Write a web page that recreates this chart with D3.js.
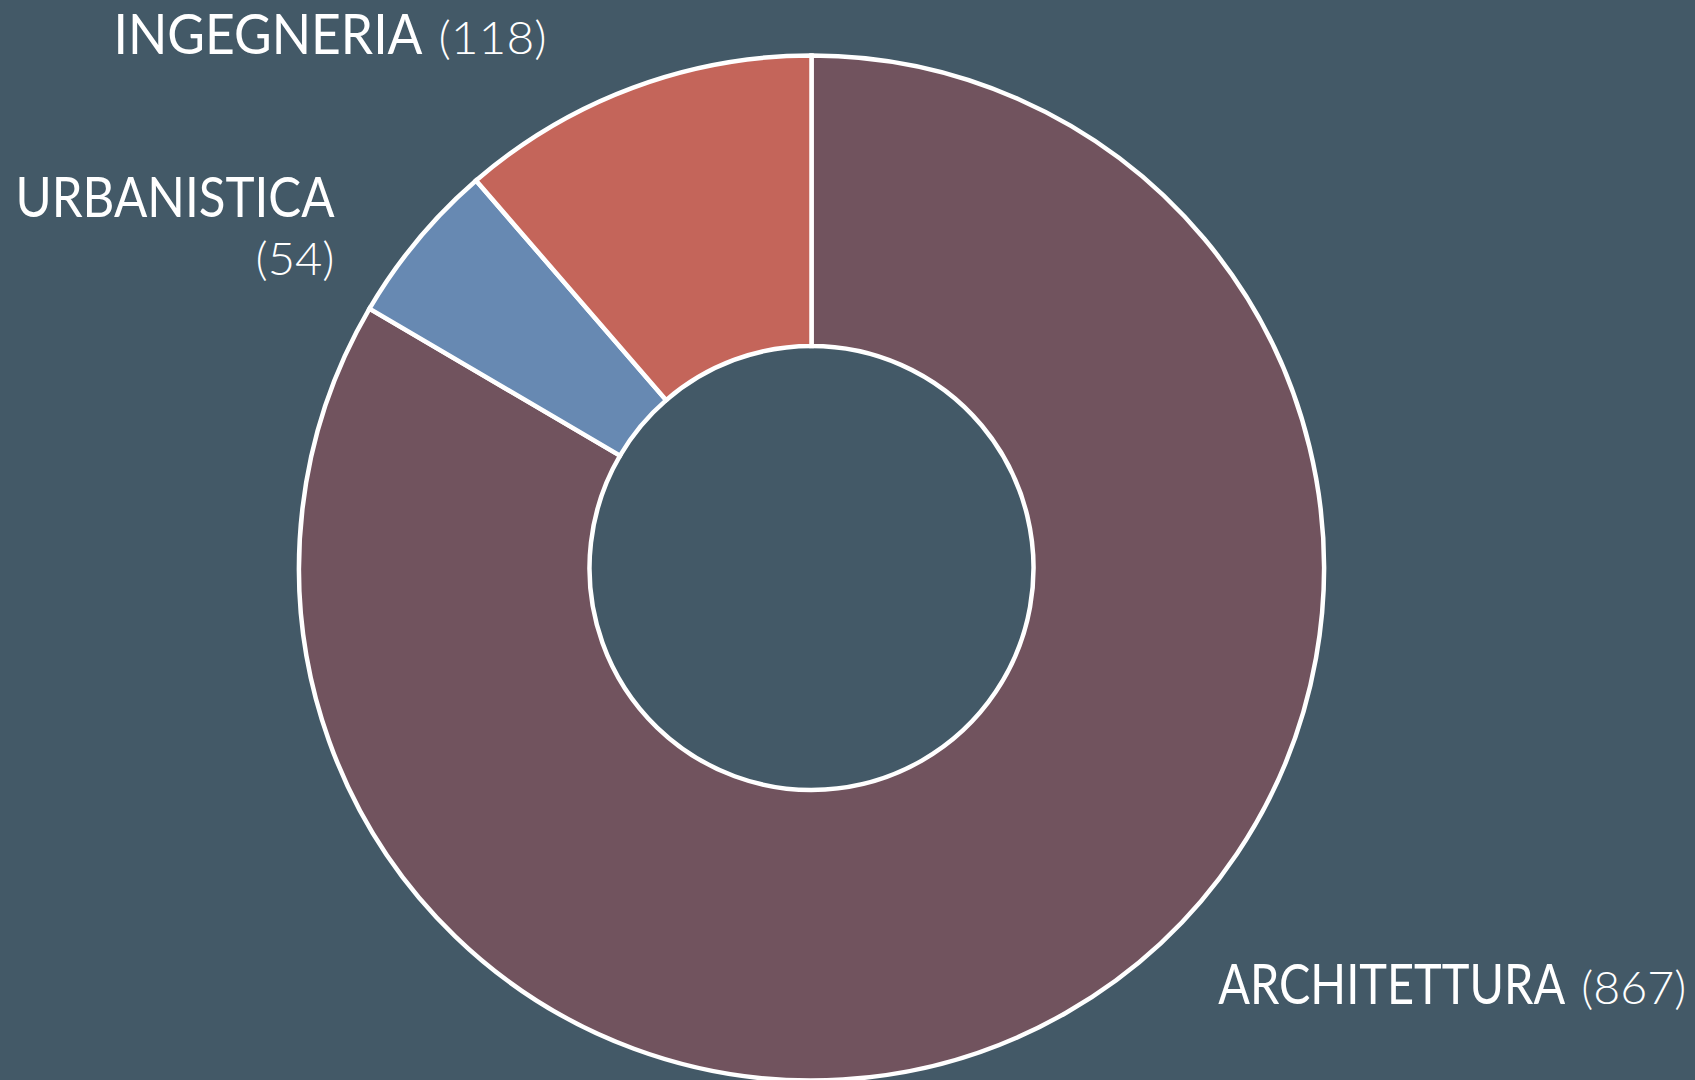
<!DOCTYPE html>
<html>
<head>
<meta charset="utf-8">
<script src="https://cdn.jsdelivr.net/npm/d3@7"></script>
<style>
    html, body { margin: 0; padding: 0; background: #435967; overflow: hidden; }
    svg { display: block; }
</style>
</head>
<body>
<svg id="chart"></svg>
<script>
const categories = ["ARCHITETTURA", "URBANISTICA", "INGEGNERIA"];
const values = [867, 54, 118];
const colors = ["#71535e", "#6789b2", "#c4655a"];

// label placement relative to the outer edge of each slice
const labelLayout = [
    { dx: 152, dy: -9, anchor: "start", wrap: false, nameWidth: 347, numWidth: 105 },
    { dx: -83, dy: -23, anchor: "end", wrap: true, nameWidth: 319, numWidth: 79 },
    { dx: -86, dy: -34, anchor: "end", wrap: false, nameWidth: 309, numWidth: 108 }
];

const width = 1695;
const height = 1080;
const center = { x: 811.5, y: 568 };
const outerRadius = 512.5;
const innerRadius = 222;
const labelGap = 16;
const lineHeight = 58;

const svg = d3.select("#chart")
    .attr("width", width)
    .attr("height", height);

svg.append("rect")
    .attr("width", width)
    .attr("height", height)
    .attr("fill", "#435967");

const data = categories.map((name, i) => ({ name, value: values[i], color: colors[i], label: labelLayout[i] }));

const pie = d3.pie().sort(null).value(d => d.value);
const arc = d3.arc().innerRadius(innerRadius).outerRadius(outerRadius);
const edgeArc = d3.arc().innerRadius(outerRadius).outerRadius(outerRadius);

const g = svg.append("g").attr("transform", `translate(${center.x},${center.y})`);

g.selectAll("path.slice")
    .data(pie(data))
    .join("path")
    .attr("class", "slice")
    .attr("d", arc)
    .attr("fill", d => d.data.color)
    .attr("stroke", "#ffffff")
    .attr("stroke-width", 4.5)
    .attr("stroke-linejoin", "miter");

const labels = g.selectAll("g.label")
    .data(pie(data))
    .join("g")
    .attr("class", "label")
    .attr("transform", d => {
        const mid = (d.startAngle + d.endAngle) / 2;
        const [x, y] = edgeArc.centroid({ startAngle: mid, endAngle: mid });
        return `translate(${x + d.data.label.dx},${y + d.data.label.dy})`;
    });

labels.each(function(d) {
    const l = d.data.label;
    const t = d3.select(this);
    let nameX = 0, numX = 0, numY = 0;
    if (l.wrap) {
        nameX = -l.nameWidth;
        numX = -l.numWidth;
        numY = lineHeight;
    } else if (l.anchor === "end") {
        numX = -l.numWidth;
        nameX = numX - labelGap - l.nameWidth;
    } else {
        numX = l.nameWidth + labelGap;
    }

    t.append("text")
        .attr("x", nameX)
        .attr("fill", "#ffffff")
        .attr("font-family", "Lato, 'Open Sans', sans-serif")
        .attr("font-size", 56)
        .attr("font-weight", 400)
        .attr("textLength", l.nameWidth)
        .attr("lengthAdjust", "spacingAndGlyphs")
        .text(d.data.name);

    t.append("text")
        .attr("x", numX)
        .attr("y", numY)
        .attr("fill", "#ffffff")
        .attr("font-family", "Lato, 'Open Sans', sans-serif")
        .attr("font-size", 46)
        .attr("font-weight", 300)
        .attr("textLength", l.numWidth)
        .attr("lengthAdjust", "spacingAndGlyphs")
        .text(`(${d.data.value})`);
});
</script>
</body>
</html>
